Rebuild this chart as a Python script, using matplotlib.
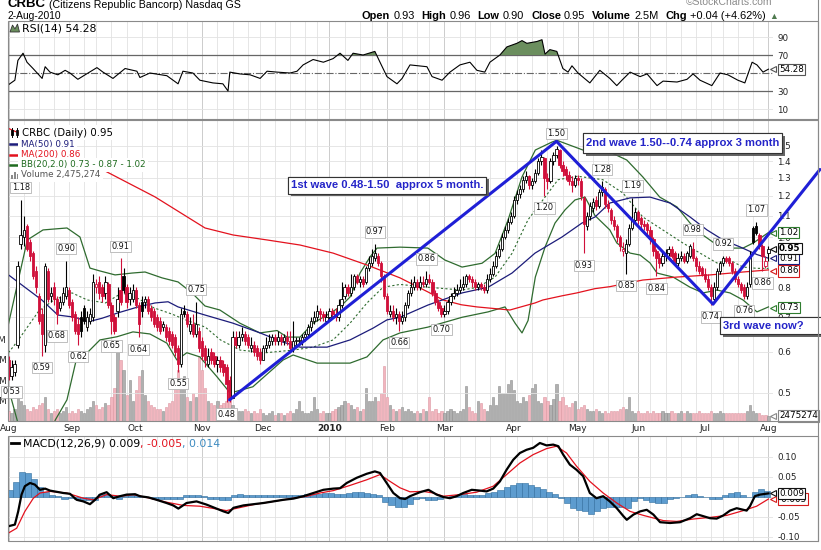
import matplotlib
matplotlib.use("Agg")
import matplotlib.pyplot as plt
import matplotlib.patheffects as pe
from matplotlib.patches import Rectangle, Polygon
from matplotlib.lines import Line2D
import numpy as np
import pandas as pd

plt.rcParams['font.family'] = ['DejaVu Sans']

W, H = 821, 550

######################################## DATA #########################################

HOLIDAYS = ["2009-09-07", "2009-11-26", "2009-12-25", "2010-01-01", "2010-01-18",
            "2010-02-15", "2010-04-02", "2010-05-31", "2010-07-05"]

closes = [.54, .56, .57, .88, 1.01, 1.03, .95, .92, .84, .80,
          .69, .65, .88, .76, .78, .76, .71, .75, .78, .80,
          .74, .70, .66, .65, .66, .69, .70, .71, .82, .81,
          .78, .77, .82, .74, .69, .66, .76, .75, .79, .75,
          .78, .79, .74, .68, .72, .76, .72, .70, .68, .67,
          .66, .68, .64, .63, .62, .60, .57, .71, .71, .68,
          .68, .65, .68, .61, .59, .58, .59, .58, .57, .58,
          .56, .55, .52, .49, .64, .62, .64, .65, .63, .62,
          .62, .60, .59, .58, .61, .62, .63, .64, .63, .64,
          .63, .64, .63, .61, .63, .63, .63, .64, .65, .67,
          .69, .70, .72, .71, .70, .70, .72, .71, .70, .74,
          .76, .80, .78, .80, .84, .82, .83, .81, .87, .89,
          .92, .93, .89, .84, .77, .72, .72, .70, .71, .69,
          .70, .74, .78, .80, .82, .80, .82, .81, .83, .82,
          .78, .75, .73, .71, .72, .75, .77, .78, .79, .80,
          .81, .84, .83, .82, .80, .81, .80, .79, .83, .85,
          .88, .92, .95, 1.00, 1.03, 1.07, 1.10, 1.18, 1.21, 1.24,
          1.29, 1.31, 1.26, 1.28, 1.33, 1.40, 1.43, 1.30, 1.28, 1.40,
          1.44, 1.48, 1.38, 1.34, 1.32, 1.28, 1.26, 1.30, 1.29, 1.20,
          1.06, 1.10, 1.15, 1.17, 1.15, 1.22, 1.25, 1.16, 1.14, 1.08,
          1.05, 1.00, .96, .95, .97, 1.04, 1.08, 1.12, 1.08, 1.06,
          1.05, 1.03, .99, .94, .91, .89, .92, .93, .95, .92,
          .90, .91, .92, .90, .93, .96, .91, .88, .86, .85,
          .83, .80, .77, .80, .86, .89, .91, .90, .89, .86,
          .83, .81, .79, .77, .80, .92, .98, 1.02, .96, .92,
          .90, .95]

opens = [.58, .54, .55, .62, .97, 1.00, 1.05, .98, .93, .86,
         .77, .71, .62, .86, .77, .80, .76, .73, .75, .77,
         .79, .75, .71, .68, .70, .73, .67, .69, .70, .80,
         .82, .80, .78, .81, .74, .70, .72, .79, .84, .80,
         .76, .76, .79, .74, .75, .75, .76, .73, .72, .70,
         .69, .67, .67, .66, .65, .64, .61, .57, .72, .71,
         .66, .68, .65, .66, .63, .61, .57, .60, .59, .57,
         .58, .57, .56, .53, .49, .64, .62, .64, .65, .64,
         .61, .62, .61, .60, .58, .61, .62, .63, .64, .63,
         .64, .63, .64, .63, .61, .63, .63, .63, .64, .65,
         .67, .69, .70, .72, .71, .69, .70, .72, .71, .70,
         .74, .77, .80, .78, .80, .84, .82, .83, .82, .87,
         .89, .91, .92, .89, .84, .77, .71, .72, .70, .71,
         .69, .70, .74, .78, .80, .82, .80, .82, .81, .83,
         .82, .78, .75, .73, .71, .72, .75, .77, .78, .79,
         .80, .81, .84, .83, .82, .80, .81, .80, .79, .83,
         .85, .88, .92, .95, 1.00, 1.03, 1.07, 1.10, 1.18, 1.21,
         1.24, 1.29, 1.31, 1.26, 1.28, 1.33, 1.40, 1.42, 1.30, 1.28,
         1.40, 1.44, 1.47, 1.38, 1.35, 1.32, 1.28, 1.26, 1.30, 1.28,
         1.19, 1.05, 1.10, 1.14, 1.18, 1.15, 1.22, 1.24, 1.16, 1.13,
         1.08, 1.05, 1.00, .94, .93, .97, 1.04, 1.08, 1.12, 1.09,
         1.06, 1.06, 1.03, .99, .94, .91, .89, .92, .93, .95,
         .93, .89, .91, .92, .90, .92, .95, .91, .88, .87,
         .85, .83, .80, .76, .80, .86, .89, .91, .91, .89,
         .86, .83, .81, .80, .77, .81, 1.04, 1.05, 1.01, .96,
         .88, .93]

highs = [.59, .58, .58, .90, 1.18, 1.10, 1.06, .99, .94, .88,
         .78, .73, .89, .87, .80, .82, .77, .77, .80, .90,
         .80, .76, .72, .70, .72, .74, .72, .73, .85, .83,
         .84, .81, .84, .82, .75, .71, .80, .91, .87, .81,
         .80, .81, .80, .75, .77, .77, .77, .74, .73, .71,
         .70, .69, .68, .67, .66, .65, .62, .73, .74, .72,
         .70, .71, .75, .67, .64, .62, .61, .61, .60, .59,
         .59, .58, .57, .54, .66, .66, .66, .67, .66, .65,
         .64, .63, .62, .61, .62, .64, .65, .65, .65, .66,
         .65, .65, .66, .66, .69, .64, .64, .65, .66, .68,
         .70, .72, .74, .73, .72, .72, .73, .73, .73, .76,
         .82, .81, .81, .85, .85, .85, .84, .84, .88, .92,
         .95, .97, .93, .90, .85, .78, .74, .74, .73, .72,
         .72, .75, .79, .83, .84, .83, .84, .84, .86, .85,
         .83, .79, .76, .74, .74, .76, .78, .80, .81, .83,
         .84, .85, .85, .84, .83, .82, .82, .81, .85, .87,
         .90, .94, .97, 1.02, 1.05, 1.09, 1.12, 1.20, 1.23, 1.26,
         1.31, 1.34, 1.32, 1.30, 1.35, 1.42, 1.47, 1.43, 1.33, 1.42,
         1.46, 1.50, 1.48, 1.40, 1.37, 1.34, 1.31, 1.32, 1.32, 1.30,
         1.20, 1.12, 1.17, 1.19, 1.20, 1.24, 1.28, 1.25, 1.18, 1.14,
         1.10, 1.06, 1.01, .98, .99, 1.06, 1.19, 1.14, 1.13, 1.10,
         1.08, 1.07, 1.05, 1.00, .95, .93, .94, .95, .96, .96,
         .94, .93, .94, .93, .94, .97, .98, .92, .90, .88,
         .87, .85, .81, .82, .87, .90, .92, .92, .92, .90,
         .87, .84, .82, .81, .82, .94, 1.05, 1.07, 1.02, .97,
         .92, .96]

lows = [.53, .53, .54, .61, .95, .96, .94, .90, .83, .78,
        .68, .59, .60, .75, .75, .74, .68, .72, .74, .76,
        .73, .69, .65, .62, .64, .68, .66, .68, .69, .78,
        .76, .75, .76, .73, .65, .65, .70, .74, .78, .73,
        .74, .75, .73, .64, .70, .73, .71, .69, .67, .66,
        .65, .66, .63, .62, .61, .59, .55, .56, .70, .67,
        .65, .64, .64, .60, .58, .56, .56, .57, .56, .55,
        .55, .54, .48, .48, .49, .61, .61, .63, .62, .61,
        .60, .59, .58, .57, .58, .60, .61, .62, .62, .62,
        .62, .62, .62, .60, .60, .62, .62, .62, .63, .64,
        .66, .68, .69, .69, .69, .68, .69, .70, .69, .69,
        .73, .76, .77, .77, .79, .81, .80, .80, .81, .86,
        .88, .90, .88, .82, .76, .71, .70, .69, .68, .66,
        .68, .69, .73, .77, .79, .79, .79, .80, .80, .81,
        .77, .74, .72, .70, .70, .71, .74, .76, .77, .78,
        .79, .80, .82, .80, .79, .79, .79, .78, .78, .82,
        .84, .87, .91, .94, .99, 1.02, 1.06, 1.09, 1.16, 1.19,
        1.22, 1.27, 1.24, 1.24, 1.27, 1.32, 1.38, 1.20, 1.24, 1.27,
        1.38, 1.42, 1.36, 1.31, 1.29, 1.26, 1.22, 1.25, 1.26, 1.18,
        .93, 1.03, 1.08, 1.12, 1.13, 1.14, 1.20, 1.14, 1.12, 1.06,
        1.03, .98, .94, .92, .85, .96, 1.03, 1.06, 1.06, 1.04,
        1.03, 1.01, .97, .92, .84, .87, .88, .90, .92, .91,
        .89, .88, .90, .89, .89, .91, .90, .86, .85, .84,
        .82, .79, .74, .75, .79, .85, .88, .89, .88, .85,
        .82, .80, .78, .76, .76, .80, .97, 1.01, .95, .86,
        .87, .90]

# daily volume, millions of shares
volume_m = [5, 4, 6, 12, 10, 8, 6, 5, 7, 6,
            8, 9, 12, 6, 4, 5, 6, 4, 5, 7,
            4, 5, 4, 6, 5, 4, 6, 7, 10, 8,
            6, 7, 9, 8, 12, 16, 35, 30, 25, 13,
            20, 10, 15, 22, 25, 13, 10, 8, 7, 6,
            6, 5, 7, 9, 10, 16, 25, 20, 22, 12,
            10, 14, 12, 32, 25, 16, 10, 9, 8, 10,
            8, 9, 10, 12, 8, 6, 5, 5, 6, 5,
            4, 5, 4, 6, 4, 3, 4, 5, 3, 4,
            4, 3, 4, 5, 4, 6, 10, 5, 4, 4,
            5, 12, 6, 4, 5, 4, 4, 5, 6, 7,
            8, 10, 9, 8, 6, 7, 5, 6, 16, 10,
            10, 12, 10, 14, 27, 12, 8, 6, 5, 6,
            7, 5, 6, 5, 4, 5, 4, 6, 5, 12,
            5, 6, 4, 5, 4, 5, 6, 5, 4, 5,
            6, 17, 7, 5, 4, 10, 9, 6, 5, 8,
            12, 8, 17, 14, 14, 18, 20, 15, 10, 9,
            12, 10, 13, 16, 18, 10, 9, 12, 10, 8,
            11, 18, 10, 12, 8, 7, 9, 10, 6, 7,
            8, 6, 5, 5, 6, 5, 4, 5, 4, 5,
            5, 5, 6, 7, 6, 12, 5, 4, 5, 4,
            4, 5, 4, 5, 4, 4, 5, 4, 4, 5,
            4, 4, 5, 4, 5, 4, 4, 4, 5, 4,
            4, 4, 5, 4, 4, 5, 4, 4, 4, 4,
            4, 4, 4, 4, 5, 8, 5, 4, 4, 3,
            3, 2.48]

# overlays read at trading-day positions
ma50_x = [0, 5.4, 11, 16.3, 22, 26.3, 30.9, 36.2, 42.8, 48.4, 52.7, 56, 64.9, 74.1, 83.1, 90.6, 96.3,
          105.2, 112.8, 120.4, 125, 129.3, 138.5, 149.8, 158.4, 166.3, 173.9, 182.8, 189.4, 193.7,
          198.6, 205.3, 211.9, 218.5, 225.1, 230.7, 236, 241.6, 247.2, 251]
ma50_y = [.845, .80, .756, .707, .70, .686, .697, .714, .733, .746, .75, .733, .707, .682, .653, .627, .613,
          .613, .633, .667, .692, .70, .739, .78, .80, .852, .931, 1.0, 1.064, 1.093,
          1.163, 1.19, 1.194, 1.163, 1.093, 1.032, .987, .957, .925, .91]

ma200_x = [0, 32, 48.4, 64.9, 74.2, 85.4, 96.3, 107.2, 118.4, 129.3, 138.6, 143.5, 149.6, 154.7, 165.6,
           173.9, 176.5, 182.8, 187.7, 193.7, 198.6, 209.5, 220.8, 231.7, 242.6, 251]
ma200_y = [1.62, 1.34, 1.195, 1.041, 1.009, .987, .965, .931, .883, .834, .783, .756, .74, .733, .723,
           .746, .756, .77, .78, .795, .802, .826, .837, .845, .856, .864]

bbu_x = [0, 6.2, 11.4, 19.3, 23.6, 26.9, 30.2, 35.2, 40.8, 45.1, 50.7, 56, 60.6, 64.9, 69.8, 76.4, 83,
         88.7, 92, 96.3, 100.6, 105.2, 109.5, 112.8, 116.1, 119.4, 121.7, 129.3, 138.5, 144.1, 149.8,
         156.4, 160.7, 165, 169.6, 174, 179.5, 181.1, 189.7, 198.6, 204.2, 209.5, 215.1, 220.8, 225.1,
         228.4, 234, 238.3, 242.6, 246, 251]
bbu_y = [.68, .987, 1.032, 1.041, 1.0, .871, .86, .845, .852, .856, .834, .819, .78, .736, .723, .682, .653,
         .66, .641, .641, .682, .707, .733, .766, .852, .915, .952, .956, .952, .903, .875,
         .89, .93, 1.079, 1.306, 1.472, 1.525, 1.537, 1.472, 1.459, 1.408, 1.306, 1.194, 1.143, 1.064,
         1.018, .965, .952, .952, .974, 1.02]

bbm_x = [0, 3, 10, 15, 21, 26, 32, 37.5, 43, 48, 54, 59, 65, 70, 76.5, 85, 94, 100.6, 107.2, 112.8,
         118.4, 123.7, 129.3, 138.5, 149.8, 155, 160.7, 166.3, 171.6, 177.2, 181.5, 188, 196.3, 203,
         209.5, 216.1, 222.7, 228.4, 234, 238.3, 242.6, 247.2, 251]
bbm_y = [.598, .63, .72, .756, .78, .756, .746, .78, .76, .73, .71, .69, .67, .633, .605, .598, .605, .613,
         .633, .682, .746, .80, .81, .80, .79, .80, .837, .93, 1.08, 1.194, 1.29, 1.31, 1.29, 1.215,
         1.093, 1.032, .974, .931, .891, .902, .875, .87, .87]

bbl_x = [0, 3, 8, 13, 15.4, 19.3, 22.6, 26, 30.2, 35.8, 41.1, 46.7, 52.3, 55.6, 58.9, 63.2, 68.9, 73.2,
         80.7, 90.7, 94, 101.9, 112.8, 118.4, 123.7, 129.3, 138.5, 149.8, 158.4, 164, 167.3, 169.6,
         171.6, 174, 177.2, 180.5, 183.8, 187.1, 190.4, 193.7, 198.6, 200.9, 205.3, 208.6, 211.9,
         214.2, 219.5, 225.1, 229.4, 234, 238.3, 242.6, 247.2, 251]
bbl_y = [.51, .44, .38, .40, .443, .485, .587, .598, .633, .642, .656, .65, .624, .579, .598, .587, .537, .50,
         .514, .579, .592, .571, .571, .587, .633, .653, .67, .70, .717, .733, .682, .653,
         .69, .837, .956, 1.064, 1.128, 1.179, 1.194, 1.10, 1.032, .974, .931, .923, .891,
         .852, .837, .80, .78, .79, .78, .756, .717, .733]

rsi_x = [0, 2.1, 3.1, 4.8, 6.1, 8.1, 11.1, 12.1, 13.7, 16.3, 18.7, 20.3, 22.9, 25.3, 29.2, 31.2, 34.5,
         38.5, 42.4, 43.4, 46.7, 52.3, 56, 57.6, 60.9, 63.2, 67.5, 70.8, 72.5, 73.1, 76.4, 79.8, 83.1,
         85.4, 88.7, 93, 95.3, 97.3, 100.6, 104, 107.2, 109.5, 112.1, 113.8, 117.1, 121, 122.7, 125,
         128.3, 130, 131.9, 132.6, 138.2, 139.9, 143.2, 145.8, 149.1, 152.4, 154.7, 157.3, 159, 162.3,
         164.6, 167.9, 169.6, 171.2, 174.5, 176.2, 177.2, 178.8, 181.1, 183.1, 184.8, 186.1, 188.1,
         192, 195.3, 198.6, 200.9, 202.6, 205.3, 208.6, 210.9, 214.2, 216.2, 220.8, 224.1, 226.1,
         228.4, 232.3, 235, 237.6, 240.9, 243.2, 245.6, 247.2, 249.2, 251]
rsi_y = [37, 42, 64, 72, 62, 55, 44, 57, 51, 48, 53, 50, 43, 48, 56, 51, 44,
         55, 52, 45, 50, 47, 38, 52, 50, 42, 39, 38, 30, 51, 49, 48, 44,
         52, 51, 50, 52, 59, 65, 62, 66, 72, 64, 72, 70, 74, 62, 46,
         38, 44, 55, 59, 57, 46, 42, 51, 59, 62, 53, 51, 62, 70,
         79, 83, 86, 83, 85, 87, 71, 76, 74, 55, 51, 58, 50,
         39, 53, 44, 36, 42, 51, 46, 49, 36, 41, 40, 43, 49,
         42, 36, 50, 48, 42, 39, 62, 59, 51, 54.28]

macd_x = [0, 2.1, 3.2, 4.3, 5.4, 7.1, 8.7, 10.4, 12.1, 13.7, 15.9, 18.1, 20.3, 22.5, 24.7, 26.9, 28.6,
          30.2, 32.4, 34.6, 36.8, 39, 41.8, 43.4, 46.2, 48.9, 52.2, 54.4, 56.1, 58.8, 62.1, 65.4, 68.7,
          71, 72.6, 74.3, 77.6, 80.9, 84.2, 87.5, 90.8, 94.1, 97.4, 100.7, 104, 107.3, 109.5, 111.7,
          115, 118.3, 121, 122.7, 124.9, 127.1, 129.3, 131, 132.6, 135.9, 138.7, 141.4, 143.6, 145.8,
          148, 150.2, 153, 155.7, 157.9, 160.1, 162.3, 164.5, 166.7, 168.9, 171.1, 173.3, 175.5, 177.7,
          179.9, 181.6, 183.2, 185.4, 187.6, 189.8, 192, 194.2, 196.4, 198.6, 200.9, 203.1, 204.2,
          206.4, 208.6, 210.8, 213, 215.2, 218.5, 221.8, 225.1, 227.3, 229.5, 231.7, 233.9, 236.1,
          238.3, 240.5, 242.7, 243.8, 244.9, 246.5, 248.2, 251]
macd_y = [-.073, -.069, -.036, .006, .027, .035, .031, .018, .021, .016, .013, .010, .008, -.007, -.011,
          -.018, -.007, .006, .012, -.003, .002, .006, .007, .002, -.001, -.007, -.015, -.021, -.029,
          -.015, -.011, -.019, -.029, -.036, -.040, -.027, -.021, -.018, -.015, -.011, -.007, -.004,
          .002, .010, .018, .021, .022, .035, .048, .058, .064, .060, .035, .010, -.003, -.005, .002,
          .012, .018, .006, .0, -.003, .002, .010, .018, .016, .014, .021, .039, .068, .093, .110,
          .118, .123, .135, .129, .131, .127, .106, .081, .068, .052, .010, -.003, .002, -.011, -.028,
          -.048, -.057, -.044, -.036, -.032, -.044, -.063, -.065, -.063, -.053, -.043, -.048, -.053,
          -.054, -.046, -.034, -.028, -.032, -.034, -.023, .002, .006, .009]

sig_x = [0, 2.7, 5.4, 8.2, 10.4, 13.7, 19.2, 24.7, 28, 32.4, 36.8, 41.2, 46.7, 52.2, 57.7, 63.2, 72,
         74.3, 80.9, 90.8, 98.5, 102.9, 107.3, 112.8, 118.3, 122.7, 126, 129.3, 132.6, 137, 140.3,
         143.6, 149.1, 154.6, 160.1, 164.5, 168.9, 173.3, 177.7, 181, 184.3, 187.6, 192, 196.4, 200.9,
         205.3, 209.7, 216.3, 220.7, 226.2, 231.7, 237.2, 242.7, 247.1, 251]
sig_y = [-.090, -.078, -.036, -.003, .010, .014, .010, -.003, -.007, .006, .002, .006, -.003, -.013,
         -.021, -.023, -.034, -.030, -.019, -.007, .002, .010, .016, .029, .043, .056, .039, .023, .013,
         .014, .010, .002, .006, .012, .027, .056, .085, .106, .121, .127, .110, .077, .039, .010,
         -.015, -.036, -.046, -.059, -.061, -.055, -.051, -.046, -.034, -.023, -.005]

# MACD histogram, one reading every two trading days
hist = [.017, .037, .062, .06, .045, .025, .012, .004, .002, -.004,
        -.002, -.006, -.008, -.008, -.007, .008, .008, .006, -.004, .002,
        .006, .004, .0, -.001, -.004, -.004, -.006, -.006, -.005, .004,
        .004, .004, .002, -.006, -.006, -.007, -.007, .005, .007, .006,
        .004, .004, .004, .006, .006, .005, .004, .004, .005, .007,
        .007, .008, .01, .009, .008, .008, .01, .013, .013, .01,
        .008, .006, -.012, -.02, -.025, -.024, -.018, -.004, -.003, -.007,
        -.008, -.006, -.001, .002, .005, .007, .006, .004, .006, .01,
        .013, .018, .025, .03, .035, .036, .03, .025, .019, .012,
        .007, -.002, -.015, -.028, -.032, -.035, -.043, -.036, -.028, -.025,
        -.024, -.026, -.028, -.01, -.003, -.008, -.013, -.016, -.014, -.006,
        -.003, -.001, .006, .008, .003, .0, -.004, -.005, .004, .01,
        .013, .006, .0, .012, .021, .016]

hi_idx = [4, 19, 37, 62, 121, 138, 181, 196, 206, 226, 236, 247]
hi_val = [1.18, .90, .91, .75, .97, .86, 1.50, 1.28, 1.19, .98, .92, 1.07]
lo_idx = [1, 11, 16, 23, 34, 43, 56, 72, 129, 143, 177, 190, 204, 214, 232, 243, 249]
lo_val = [.53, .59, .68, .62, .65, .64, .55, .48, .66, .70, 1.20, .93, .85, .84, .74, .76, .86]

# hand drawn wave lines (trading day, price)
wave_x = [73, 181, 232.7, 268]
wave_y = [0.485, 1.53, 0.742, 1.35]

price_ticks = [0.5, 0.6, 0.7, 0.8, 0.9, 1.0, 1.1, 1.2, 1.3, 1.4, 1.5]

######################################## SETUP #########################################

days = pd.bdate_range("2009-08-03", "2010-08-02")
days = days[~days.isin(pd.to_datetime(HOLIDAYS))]
idx = np.arange(len(days))
month_start = [i for i in idx if i == 0 or days[i].month != days[i - 1].month]
week_start = [i for i in idx if i == 0 or days[i].isocalendar()[1] != days[i - 1].isocalendar()[1]]
month_names = [str(days[i].year) if days[i].month == 1 else days[i].strftime('%b') for i in month_start]

o, hi, lo, c = (np.array(v) for v in (opens, highs, lows, closes))
prev = np.r_[o[0], c[:-1]]
down = c < prev

RED = '#d0103a'
X_LO, X_HI = -0.17, 252.5
TICK_FS = 6.3

fig = plt.figure(figsize=(W / 100, H / 100), dpi=100)
fig.patch.set_facecolor('white')


def panel(y0, y1, grid=True):
    a = fig.add_axes([8 / W, 1 - y1 / H, 765 / W, (y1 - y0) / H])
    a.set_xlim(X_LO, X_HI)
    for s in a.spines.values():
        s.set_visible(False)
    a.tick_params(length=0, labelsize=TICK_FS, pad=3, colors='#222222')
    a.yaxis.tick_right()
    a.set_xticks([])
    if grid:
        for i in week_start:
            a.axvline(i, color='#c4c4c4' if i in month_start else '#e2e2e2', lw=0.6, zorder=0)
    return a


def value_tag(a, y, text, ec, bold=False):
    a.annotate(text, xy=(1, y), xycoords=('axes fraction', 'data'), xytext=(6, 0),
               textcoords='offset pixels', ha='left', va='center', fontsize=TICK_FS,
               fontweight='bold' if bold else 'normal', color='black',
               bbox=dict(boxstyle='square,pad=0.12', fc='white', ec=ec, lw=0.8),
               annotation_clip=False, zorder=30)
    a.plot([1.0], [y], marker='<', ms=4, mfc='white', mec=ec, mew=0.8, clip_on=False, zorder=29,
           transform=a.get_yaxis_transform(), linestyle='none')

######################################## RSI #########################################

ax_rsi = panel(21, 119)
ax_rsi.set_ylim(-1.1, 107.8)
ax_rsi.set_yticks([10, 30, 70, 90])
for v in (10, 90):
    ax_rsi.axhline(v, color='#e2e2e2', lw=0.6, zorder=0)
for v in (30, 70):
    ax_rsi.axhline(v, color='#666666', lw=0.9, zorder=1)
ax_rsi.axhline(50, color='#666666', lw=0.8, ls='-.', zorder=1)
rx, ry = np.array(rsi_x), np.array(rsi_y)
ax_rsi.fill_between(rx, ry, 70, where=ry > 70, interpolate=True, color='#6b8e5e', lw=0, zorder=2)
ax_rsi.plot(rx, ry, color='black', lw=0.8, zorder=3)
value_tag(ax_rsi, 54.28, '54.28', '#555555')

######################################## PRICE #########################################

ax_vol = panel(120, 421)
ax_vol.set_ylim(0, 148)
ax_vol.yaxis.tick_left()
ax_vol.set_yticks([10, 20, 30, 40])
ax_vol.set_yticklabels(['10M', '20M', '30M', '40M'])
ax_vol.tick_params(axis='y', pad=1)
vol_face = np.where(down, '#f2b6bf', '#b0b0b0')
vol_edge = np.where(down, '#dc97a2', '#8e8e8e')
ax_vol.bar(idx, volume_m, width=0.72, color=vol_face, edgecolor=vol_edge, lw=0.4, zorder=1)
ax_vol.set_xticks(month_start)
ax_vol.set_xticklabels(month_names)
ax_vol.tick_params(axis='x', pad=2.5, labelsize=6.5)
for t in ax_vol.get_xticklabels():
    if t.get_text() == '2010':
        t.set_fontweight('bold')
value_tag(ax_vol, 2.475, '2475274', '#888888')

ax = panel(120, 421, grid=False)
ax.patch.set_visible(False)
ax.set_yscale('log')
ax.set_ylim(0.4415, 1.682)
ax.set_xlim(X_LO, X_HI)
ax.set_yticks(price_ticks)
ax.set_yticklabels([f"{v:.1f}" for v in price_ticks])
ax.yaxis.set_minor_locator(matplotlib.ticker.NullLocator())
ax.tick_params(length=0, labelsize=TICK_FS, pad=3)
for v in price_ticks:
    ax.axhline(v, color='#e2e2e2', lw=0.6, zorder=0)

# bollinger bands and moving averages
ax.plot(bbu_x, bbu_y, color='#2f6b2f', lw=0.9, zorder=2)
ax.plot(bbl_x, bbl_y, color='#2f6b2f', lw=0.9, zorder=2)
ax.plot(bbm_x, bbm_y, color='#2f6b2f', lw=0.8, ls=(0, (2, 2)), zorder=2)
ax.plot(ma200_x, ma200_y, color='#e3121e', lw=0.9, zorder=2)
ax.plot(ma50_x, ma50_y, color='#1c1c7a', lw=0.9, zorder=2)

# candles
col = np.where(down, RED, 'black')
face = np.where(c < o, col, 'white')
ax.vlines(idx, lo, hi, colors=col, lw=0.8, zorder=3)
body_lo = np.minimum(o, c)
body_h = np.maximum(np.abs(c - o), 0.004)
ax.bar(idx, body_h, bottom=body_lo, width=0.75, color=face, edgecolor=col, lw=0.6, zorder=4)

# high / low price tags
for i, v in zip(hi_idx, hi_val):
    ax.annotate(f"{v:.2f}", xy=(i, v), xytext=(0, 12), textcoords='offset pixels', ha='center',
                va='center', fontsize=5.9, color='#111111', annotation_clip=False, zorder=8,
                bbox=dict(boxstyle='square,pad=0.15', fc='white', ec='#b4b4b4', lw=0.6))
for i, v in zip(lo_idx, lo_val):
    ax.annotate(f"{v:.2f}", xy=(i, v), xytext=(0, -12), textcoords='offset pixels', ha='center',
                va='center', fontsize=5.9, color='#111111', annotation_clip=False, zorder=8,
                bbox=dict(boxstyle='square,pad=0.15', fc='white', ec='#b4b4b4', lw=0.6))

ax.plot(wave_x, wave_y, color='#1f1fd6', lw=2.2, zorder=7, clip_on=False, solid_capstyle='round')

value_tag(ax, 0.73, '0.73', '#2f7d2f')
value_tag(ax, 0.86, '0.86', '#d41a1a')
value_tag(ax, 0.91, '0.91', '#1c1c7a')
value_tag(ax, 1.02, '1.02', '#2f7d2f')
value_tag(ax, 0.95, '0.95', '#111111', bold=True)

######################################## MACD #########################################

ax_m = panel(436, 541)
ax_m.set_ylim(-0.11, 0.1525)
ax_m.set_yticks([-0.10, -0.05, 0.05, 0.10])
ax_m.set_yticklabels(['-0.10', '-0.05', '0.05', '0.10'])
for v in (-0.10, -0.05, 0.0, 0.05, 0.10):
    ax_m.axhline(v, color='#e2e2e2', lw=0.6, zorder=0)
hist_x = np.arange(0, len(idx), 2) + 0.5
ax_m.bar(hist_x, hist, width=2, color='#5d9ccf', edgecolor='#2e6c9e', lw=0.4, zorder=2)
ax_m.plot(sig_x, sig_y, color='#e3121e', lw=0.9, zorder=3)
ax_m.plot(macd_x, macd_y, color='black', lw=1.6, zorder=4)
value_tag(ax_m, -0.005, '-0.005', '#d41a1a')
value_tag(ax_m, 0.009, '0.009', '#111111')

######################################## TEXT OVERLAY #########################################

ov = fig.add_axes([0, 0, 1, 1])
ov.set_xlim(0, W)
ov.set_ylim(H, 0)
ov.axis('off')

for y0, y1 in ((21, 119), (120, 421), (436, 541)):
    ov.add_patch(Rectangle((8, y0), 810, y1 - y0, fill=False, ec='#8a8a8a', lw=0.8))


def chain(x, y, parts, family):
    prev_t = None
    for s, wt, colr, gap, size in parts:
        if prev_t is None:
            prev_t = ov.text(x, y, s, fontsize=size, fontweight=wt, color=colr, family=family,
                             ha='left', va='baseline')
        else:
            prev_t = ov.annotate(s, xy=(1, 0), xycoords=prev_t, xytext=(gap, 0),
                                 textcoords='offset pixels', fontsize=size, fontweight=wt,
                                 color=colr, family=family, ha='left', va='bottom')
    return prev_t


ARIAL = ['Liberation Sans', 'DejaVu Sans']
chain(8, 7, [("CRBC", 'bold', 'black', 0, 9.5),
             ("(Citizens Republic Bancorp) Nasdaq GS", 'normal', 'black', 3, 7.7)], ARIAL)
ov.text(686, 5, "\u00a9StockCharts.com", fontsize=7.5, color='#8a8a8a', family=ARIAL, va='baseline')
ov.text(8, 19, "2-Aug-2010", fontsize=7.4, color='black', family=ARIAL, va='baseline')
HF = 7.9
chain(362, 19, [("Open", 'bold', 'black', 0, HF), ("0.93", 'normal', 'black', 3, HF),
                ("High", 'bold', 'black', 7, HF), ("0.96", 'normal', 'black', 3, HF),
                ("Low", 'bold', 'black', 7, HF), ("0.90", 'normal', 'black', 3, HF),
                ("Close", 'bold', 'black', 7, HF), ("0.95", 'normal', 'black', 3, HF),
                ("Volume", 'bold', 'black', 7, HF), ("2.5M", 'normal', 'black', 3, HF),
                ("Chg", 'bold', 'black', 7, HF), ("+0.04 (+4.62%)", 'normal', 'black', 3, HF),
                ("\u25b2", 'normal', '#4f7a4f', 3, HF - 1.5)], ARIAL)

LEG_FS = 6.3
legend_bg = dict(fc='white', ec='none', pad=1.8)

# RSI legend
ov.add_patch(Polygon([(10, 32), (12.5, 25), (15, 29), (17.5, 24), (19.5, 32)], closed=True,
                     fc='#6b8e5e', ec='#333333', lw=0.6))
ov.text(22, 28.5, "RSI(14) 54.28", fontsize=7.8, color='black', va='center')

# price legend
for xx in (12, 17):
    ov.add_line(Line2D([xx, xx], [128, 137], color='black', lw=0.7))
    ov.add_patch(Rectangle((xx - 1.3, 130), 2.6, 4.5, fc='black' if xx == 12 else 'white', ec='black', lw=0.6))
ov.text(22, 132.5, "CRBC (Daily) 0.95", fontsize=7.3, color='black', va='center', bbox=legend_bg)
for yy, s, colr in ((144, "MA(50) 0.91", '#1c1c7a'), (154.5, "MA(200) 0.86", '#e3121e'),
                    (165, "BB(20,2.0) 0.73 - 0.87 - 1.02", '#1f6b1f')):
    ov.add_line(Line2D([10, 19.5], [yy, yy], color=colr, lw=1.8))
    ov.text(21, yy, s, fontsize=LEG_FS, color=colr, va='center', bbox=legend_bg)
for k, hh in enumerate((4, 7, 5)):
    ov.add_patch(Rectangle((10.5 + k * 3, 179 - hh), 2.2, hh, fc='#8a8a8a', ec='none'))
ov.text(21, 175, "Volume 2,475,274", fontsize=LEG_FS, color='#555555', va='center', bbox=legend_bg)

# MACD legend
ov.add_line(Line2D([11, 19], [443, 443], color='black', lw=2))
chain(23, 447, [("MACD(12,26,9) 0.009", 'normal', 'black', 0, 7.8),
                (", -0.005", 'normal', '#e3121e', 0, 7.8),
                (", 0.014", 'normal', '#3c8ac0', 0, 7.8)], ['DejaVu Sans'])

# wave comment boxes
shadow = [pe.withSimplePatchShadow(offset=(2, -2), shadow_rgbFace='#555555', alpha=0.9), pe.Normal()]
for (x0, y0, x1, y1), s, tx, ha in (((288, 176.5, 486, 193.5), "1st wave 0.48-1.50  approx 5 month.", 387, 'center'),
                                    ((583, 133, 782, 153), "2nd wave 1.50--0.74 approx 3 month", 682.5, 'center'),
                                    ((720, 317, 836, 334), "3rd wave now?", 723, 'left')):
    box = Rectangle((x0, y0), x1 - x0, y1 - y0, fc='white', ec='#333333', lw=0.8)
    box.set_path_effects(shadow)
    ov.add_patch(box)
    ov.text(tx, (y0 + y1) / 2 + 0.5, s, fontsize=8.1, fontweight='bold', color='#2424c8', family=ARIAL,
            ha=ha, va='center')

ov.add_line(Line2D([818, 818], [0, 541], color='#8a8a8a', lw=0.8))

fig.savefig("out.png", dpi=100, facecolor='white')
